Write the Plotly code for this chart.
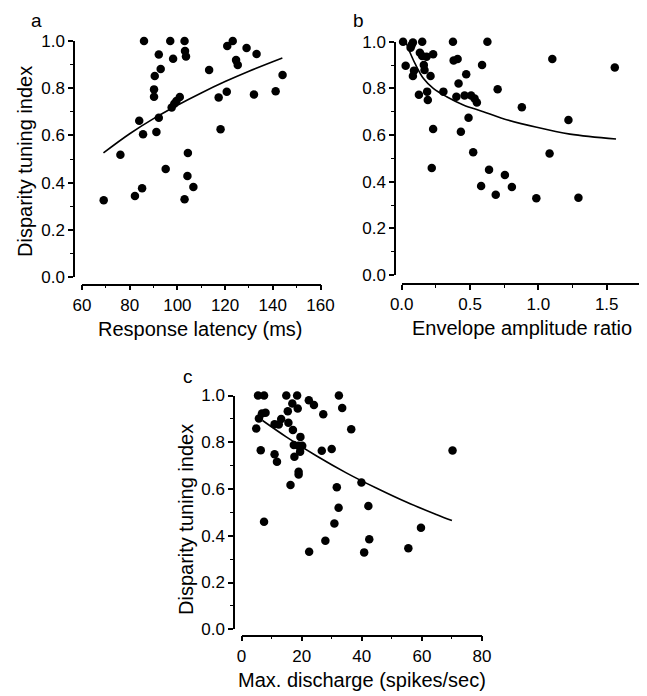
import plotly.graph_objects as go

# page body has a default 8px margin: the figure is placed at (8, 8)
OFF = 8
W, H = 647 - OFF, 696 - OFF

# ---------------- Panel a: response latency ----------------
a_latency = [69.1, 76.1, 82.2, 85.2, 84.0, 85.6, 86.0, 92.2, 93.0, 90.5, 90.2, 90.2, 92.2, 91.2,
             95.1, 97.0, 98.2, 97.6, 98.7, 99.6, 101.0, 103.0, 103.2, 103.6, 104.4, 104.2, 103.0,
             106.7, 113.3, 117.3, 118.1, 120.7, 120.9, 123.2, 124.6, 125.3, 129.0, 133.2, 132.1,
             141.2, 144.1]
a_index = [0.325, 0.518, 0.343, 0.376, 0.662, 0.605, 1.0, 0.943, 0.881, 0.852, 0.795, 0.764, 0.675,
           0.614, 0.458, 1.0, 0.925, 0.718, 0.734, 0.746, 0.763, 1.0, 0.958, 0.934, 0.525, 0.428,
           0.329, 0.381, 0.877, 0.761, 0.626, 0.785, 0.979, 1.0, 0.919, 0.898, 0.970, 0.945, 0.773,
           0.787, 0.856]
a_fit_x = [69, 80, 90, 100, 110, 120, 130, 144]
a_fit_y = [0.526, 0.607, 0.671, 0.728, 0.780, 0.828, 0.872, 0.928]

# ---------------- Panel b: envelope amplitude ratio ----------------
b_ratio = [0.010, 0.029, 0.065, 0.082, 0.072, 0.090, 0.082, 0.150, 0.133, 0.150, 0.182, 0.230,
           0.162, 0.167, 0.211, 0.126, 0.186, 0.191, 0.230, 0.220, 0.305, 0.375, 0.380, 0.409,
           0.472, 0.416, 0.400, 0.460, 0.508, 0.533, 0.550, 0.489, 0.433, 0.588, 0.627, 0.702,
           0.523, 0.639, 0.581, 0.688, 0.755, 0.806, 0.879, 0.985, 1.082, 1.102, 1.220, 1.293,
           1.559]
b_index = [1.0, 0.897, 0.974, 0.997, 0.985, 0.876, 0.853, 1.0, 0.953, 0.939, 0.936, 0.946,
           0.900, 0.879, 0.853, 0.773, 0.786, 0.750, 0.626, 0.459, 0.786, 1.0, 0.919, 0.926,
           0.860, 0.821, 0.764, 0.769, 0.769, 0.757, 0.739, 0.674, 0.614, 0.900, 1.0, 0.796,
           0.526, 0.451, 0.381, 0.344, 0.429, 0.377, 0.719, 0.329, 0.521, 0.926, 0.664, 0.331,
           0.889]
b_fit_x = [0.017, 0.048, 0.097, 0.158, 0.231, 0.329, 0.451, 0.597, 0.732, 0.988, 1.231, 1.568]
b_fit_y = [1.021, 0.972, 0.907, 0.843, 0.800, 0.764, 0.729, 0.700, 0.672, 0.633, 0.604, 0.583]

# ---------------- Panel c: max discharge ----------------
c_discharge = [5.5, 7.5, 14.9, 18.5, 22.4, 24.1, 32.4, 33.5, 16.9, 18.7, 15.4, 6.8, 8.0, 5.8, 4.9,
               27.2, 13.2, 11.0, 12.4, 15.6, 17.1, 19.6, 17.4, 18.9, 20.2, 19.5, 17.6, 6.4, 11.0,
               11.8, 19.0, 19.0, 16.3, 26.7, 30.0, 36.5, 39.9, 31.7, 32.3, 42.2, 7.5, 30.9, 27.9,
               42.5, 59.7, 70.2, 22.5, 40.8, 55.5]
c_index = [1.0, 1.0, 1.0, 1.0, 0.980, 0.959, 1.0, 0.947, 0.966, 0.944, 0.933, 0.923, 0.926, 0.902,
           0.859, 0.920, 0.899, 0.877, 0.876, 0.883, 0.852, 0.823, 0.788, 0.785, 0.785, 0.759,
           0.738, 0.766, 0.749, 0.717, 0.674, 0.662, 0.617, 0.764, 0.771, 0.856, 0.628, 0.608,
           0.520, 0.527, 0.460, 0.453, 0.379, 0.385, 0.434, 0.765, 0.332, 0.329, 0.347]
c_fit_x = [7, 15, 25, 35, 45, 55, 65, 70]
c_fit_y = [0.893, 0.822, 0.741, 0.668, 0.603, 0.543, 0.490, 0.465]

y_label = "Disparity tuning index"
x_labels = ["Response latency (ms)", "Envelope amplitude ratio", "Max. discharge (spikes/sec)"]
panel_letters = ["a", "b", "c"]

FONT = "Liberation Sans, Arial, Helvetica, sans-serif"


def px_x(p):
    return (p - OFF) / W


def px_y(p):
    return 1 - (p - OFF) / H


fig = go.Figure()

panels = [
    (a_latency, a_index, a_fit_x, a_fit_y, "x", "y"),
    (b_ratio, b_index, b_fit_x, b_fit_y, "x2", "y2"),
    (c_discharge, c_index, c_fit_x, c_fit_y, "x3", "y3"),
]
for xs, ys, fx, fy, xa, ya in panels:
    fig.add_trace(go.Scatter(x=xs, y=ys, mode="markers", xaxis=xa, yaxis=ya,
                             marker=dict(color="black", size=8.5, line=dict(width=0)),
                             cliponaxis=False, showlegend=False, hoverinfo="skip"))
    fig.add_trace(go.Scatter(x=fx, y=fy, mode="lines", xaxis=xa, yaxis=ya,
                             line=dict(color="black", width=1.6, shape="spline"),
                             cliponaxis=False, showlegend=False, hoverinfo="skip"))


def axis_common(dtick, minor_dtick, rng, fmt=None):
    d = dict(range=rng, showline=True, linecolor="black", linewidth=1.5,
             ticks="outside", ticklen=5, tickwidth=1.5, tickcolor="black",
             showgrid=False, zeroline=False, dtick=dtick, tick0=0, automargin=False,
             tickfont=dict(family=FONT, size=17, color="black"),
             minor=dict(ticks="outside", ticklen=3, tickwidth=1, tickcolor="black",
                        dtick=minor_dtick, tick0=0, showgrid=False),
             fixedrange=True)
    if fmt:
        d["tickformat"] = fmt
    return d


# pixel geometry of each panel (page pixels)
# (x0_px, x1_px, xaxis_line_y_px, y0_px(bottom,val 0), y1_px(top,val 1), yaxis_line_x_px)
geo = {
    "a": (82.0, 320.5, 284.5, 277.0, 41.0, 74.0),
    "b": (401.7, 640.9, 284.0, 275.0, 41.7, 395.0),
    "c": (241.5, 482.0, 635.5, 629.3, 395.5, 234.0),
}

xcfg = [
    axis_common(20, 10, [60, 160]),
    axis_common(0.5, 0.25, [0, 1.75], ".1f"),
    axis_common(20, 10, [0, 80]),
]

layout = dict(template="none", width=W, height=H, margin=dict(l=0, r=0, t=0, b=0, pad=0),
              autosize=False, paper_bgcolor="white", plot_bgcolor="white",
              font=dict(family=FONT, color="black"), showlegend=False)

for i, key in enumerate(["a", "b", "c"]):
    x0, x1, xline, yb, yt, yline = geo[key]
    suffix = "" if i == 0 else str(i + 1)
    xa = xcfg[i]
    xa.update(domain=[px_x(x0), px_x(x1)], anchor="free", position=px_y(xline),
              side="bottom")
    ya = axis_common(0.2, 0.1, [0, 1], ".1f")
    ya.update(domain=[px_y(yb), px_y(yt)], anchor="free", position=px_x(yline),
              side="left")
    layout["xaxis" + suffix] = xa
    layout["yaxis" + suffix] = ya

annotations = []
# panel letters
for letter, (lx, ly) in zip(panel_letters, [(36, 20), (358, 20), (188, 377)]):
    annotations.append(dict(text=letter, x=px_x(lx), y=px_y(ly), xref="paper", yref="paper",
                            showarrow=False, xanchor="center", yanchor="middle",
                            font=dict(family=FONT, size=19, color="black")))
# x titles
for t, (tx, ty) in zip(x_labels, [(201, 329), (522, 328), (362, 680)]):
    annotations.append(dict(text=t, x=px_x(tx), y=px_y(ty), xref="paper", yref="paper",
                            showarrow=False, xanchor="center", yanchor="middle",
                            font=dict(family=FONT, size=20, color="black")))
# y titles
for (tx, ty) in [(25, 162), (186, 520)]:
    annotations.append(dict(text=y_label, x=px_x(tx), y=px_y(ty), xref="paper", yref="paper",
                            showarrow=False, xanchor="center", yanchor="middle", textangle=-90,
                            font=dict(family=FONT, size=20, color="black")))
layout["annotations"] = annotations

fig.update_layout(**layout)
fig.write_html("out.html")
